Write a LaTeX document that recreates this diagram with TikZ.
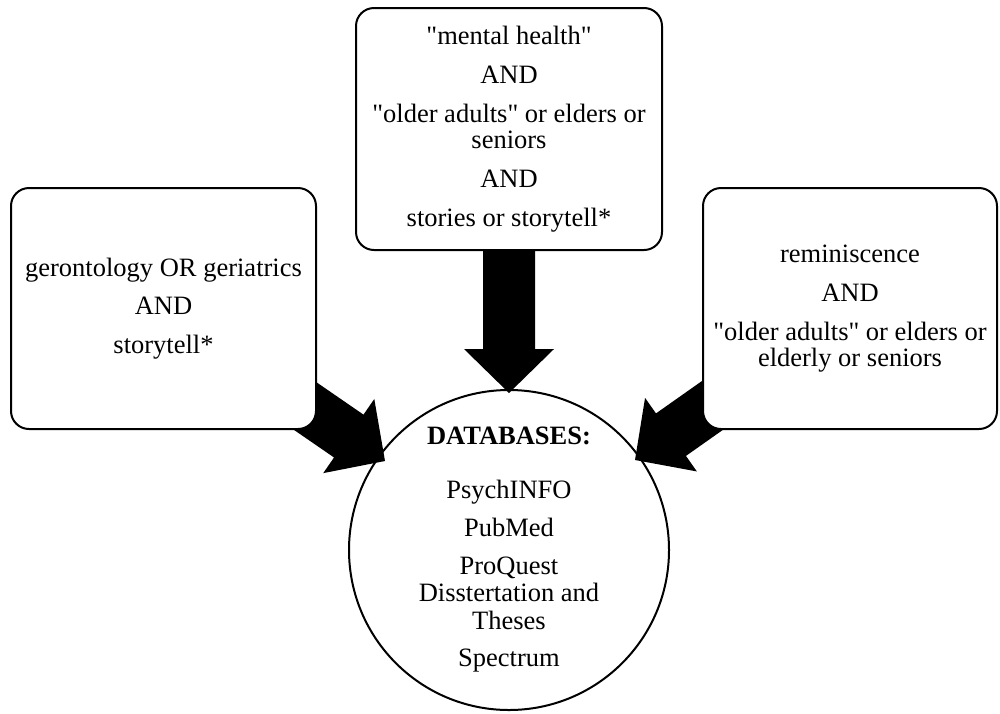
\documentclass[tikz,border=0pt]{standalone}
\usepackage{fontspec}
\setmainfont{Liberation Serif}[Ligatures=TeXOff]
\usetikzlibrary{calc,backgrounds}
\begin{document}
\begin{tikzpicture}[x=1pt,y=-1pt,
  txt/.style={font=\fontsize{26.5}{26}\selectfont},
  box/.style={txt, draw, line width=2pt, rounded corners=18pt, fill=white, align=center, inner sep=0pt},
  dbcircle/.style={txt, draw, circle, line width=2pt, minimum size=320pt, inner sep=0pt, align=center},
  blockarrow/.style={fill=black}
]
\useasboundingbox (0,0) rectangle (1000,713);
\node[dbcircle] (db) at (509,550) {\textbf{DATABASES:}\\[28pt]PsychINFO\\[12pt]PubMed\\[12pt]ProQuest\\[1pt]Disstertation and\\[2pt]Theses\\[11pt]Spectrum};
\node[box, minimum width=305pt, minimum height=241pt] (gl) at (163.5,308.5)
  {gerontology OR geriatrics\\[12.5pt]AND\\[12.5pt]storytell*};
\node[box, minimum width=306pt, minimum height=242pt] (gt) at (509,129)
  {"mental health"\\[13pt]AND\\[13pt]"older adults" or elders or\\seniors\\[13pt]AND\\[13pt]stories or storytell*};
\node[box, minimum width=294pt, minimum height=241pt] (gr) at (850,308.5)
  {reminiscence\\[13pt]AND\\[13pt]"older adults" or elders or\\elderly or seniors};
\coordinate (tl) at ($(db.center)+(-124,-89)$);
\coordinate (tt) at ($(db.center)+(0,-157)$);
\coordinate (tr) at ($(db.center)+(126,-90)$);
\begin{scope}[on background layer]
\foreach \s/\p in {gl/tl, gt/tt, gr/tr} {
  \coordinate (h) at ($(\p)!44pt!(\s.center)$);
  \fill[blockarrow] ($(\s.center)!26pt!90:(\p)$) -- ($(h)!26pt!90:(\p)$) -- ($(h)!45pt!90:(\p)$)
    -- (\p) -- ($(h)!45pt!-90:(\p)$) -- ($(h)!26pt!-90:(\p)$) -- ($(\s.center)!26pt!-90:(\p)$) -- cycle;
}
\end{scope}
\end{tikzpicture}
\end{document}
